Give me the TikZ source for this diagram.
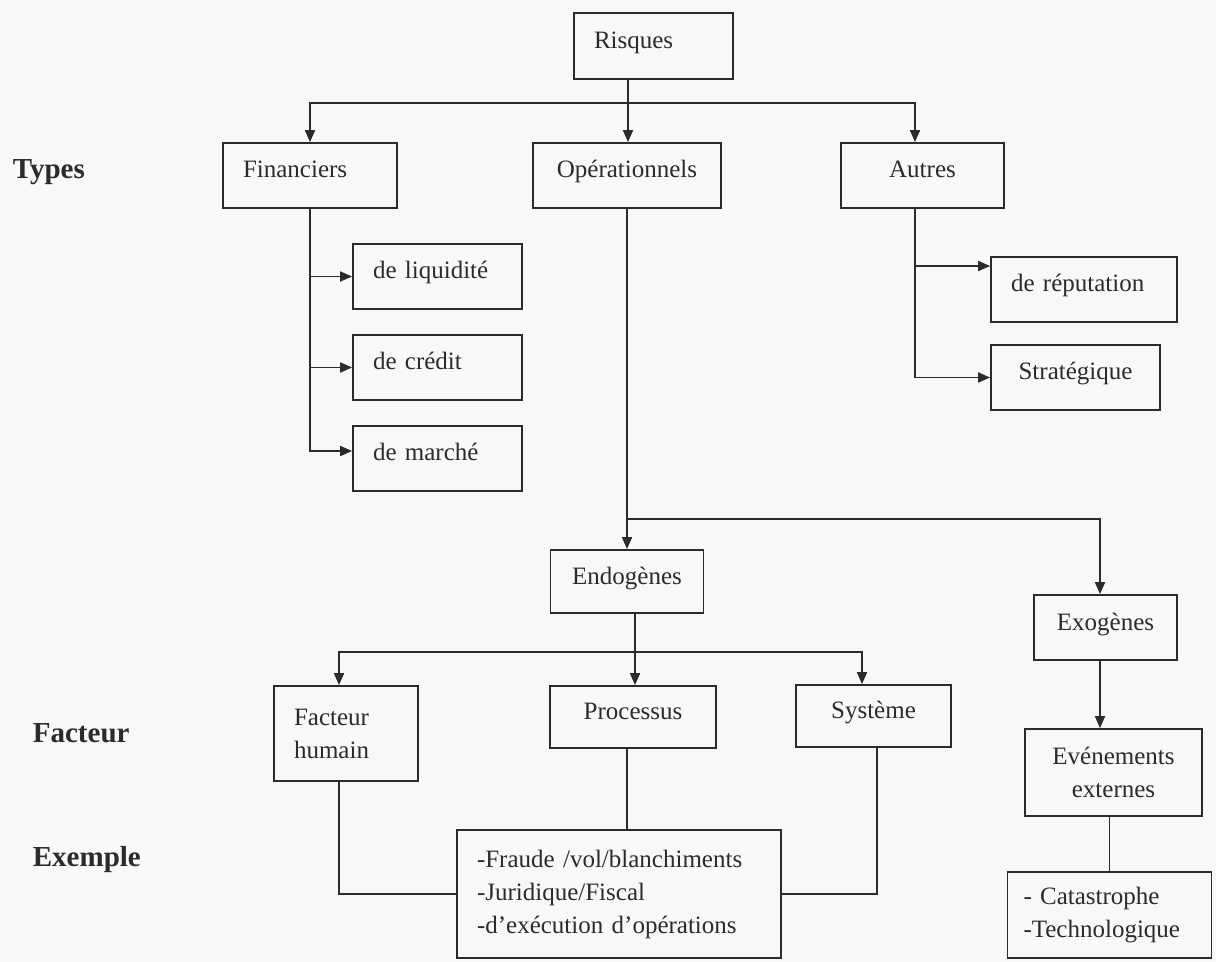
\documentclass[tikz,border=0pt]{standalone}
\usepackage{fontspec}
\setmainfont{Liberation Serif}
\usetikzlibrary{arrows.meta}
\definecolor{ink}{HTML}{2B2B2B}
\definecolor{paper}{HTML}{F7F8FA}
\tikzset{
  box/.style={draw=ink, line width=0.9pt, inner sep=0pt, text=ink, font=\fontsize{12.5}{16.5}\selectfont},
  cbox/.style 2 args={box, minimum width=#1, minimum height=#2, text height=7.25pt, text depth=4.75pt},
  lbox/.style 2 args={box, inner xsep=10pt, text width=#1, minimum height=#2, align=left},
  one/.style={text height=7.25pt, text depth=4.75pt},
  lab/.style={anchor=west, inner sep=0pt, text=ink, font=\fontsize{14.5}{17}\selectfont\bfseries}
}
\begin{document}
\begin{tikzpicture}[x=0.5pt,y=-0.5pt,>={Triangle[length=6pt,width=5pt]},line width=0.9pt,draw=ink]
\fill[paper] (0,0) rectangle (1216,962);
\useasboundingbox (0,0) rectangle (1216,962);
\node[lab] (types) at (12,172) {Types};
\node[lab] (facteur) at (32,733) {Facteur};
\node[lab] (exlab) at (32,860) {Exemple};
\node[lbox={59.5pt}{33pt}, one] (risques) at (653.5,46) {Risques};
\node[lbox={67pt}{32.5pt}, one] (fin) at (310,175.5) {Financiers};
\node[cbox={94pt}{32.5pt}] (oper) at (627,175.5) {Opérationnels};
\node[cbox={81.5pt}{32.5pt}] (autres) at (922.5,175.5) {Autres};
\node[lbox={64.5pt}{32.5pt}, one] (liq) at (437.5,276.5) {de liquidité};
\node[lbox={64.5pt}{32.5pt}, one] (cred) at (437.5,367.5) {de crédit};
\node[lbox={64.5pt}{32.5pt}, one] (marche) at (437.5,458.5) {de marché};
\node[lbox={73pt}{32.5pt}, one] (reput) at (1084,289.5) {de réputation};
\node[cbox={84.5pt}{32.5pt}] (strat) at (1075.5,377.5) {Stratégique};
\node[cbox={76.5pt}{31.5pt}] (endo) at (627,581.5) {Endogènes};
\node[cbox={71.5pt}{32.5pt}] (exo) at (1105.5,627.5) {Exogènes};
\node[lbox={52pt}{47.5pt}] (fact) at (346,733.5) {Facteur\\humain};
\node[cbox={83pt}{31pt}] (proc) at (633,717) {Processus};
\node[cbox={77.5pt}{31pt}] (syst) at (873.5,716) {Système};
\node[box, minimum width=88.5pt, minimum height=43.5pt, align=center] (even) at (1113.5,772.5) {Evénements\\externes};
\node[lbox={142pt}{64pt}] (exemple) at (619,894) {-Fraude /vol/blanchiments\\-Juridique/Fiscal\\-d’exécution d’opérations};
\node[lbox={86pt}{43pt}, inner xsep=8pt] (cata) at (1109.5,915) {- Catastrophe\\-Technologique};
\coordinate (hub) at (628,103);
\coordinate (atrunk) at ([xshift=-3.75pt]autres.south);
\coordinate (rin) at ([yshift=11.75pt]reput.west);
\coordinate (obr) at (627,519);
\coordinate (xin) at ([xshift=-2.75pt]exo.north);
\coordinate (ebr) at (635,652);
\draw[->] (risques.south -| hub) -- (oper.north -| hub);
\draw[->] (hub) -| (fin.north);
\draw[->] (hub) -| ([xshift=-3.75pt]autres.north);
\draw[->] (fin.south) |- ([yshift=3.75pt]marche.west);
\draw[->] (fin.south |- liq.west) -- (liq.west);
\draw[->] (fin.south |- cred.west) -- (cred.west);
\draw[->] (atrunk) |- (strat.west);
\draw[->] (atrunk |- rin) -- (rin);
\draw[->] (oper.south) -- (endo.north);
\draw[->] (obr) -| (xin);
\draw[->] (endo.south -| ebr) -- (proc.north -| ebr);
\draw[->] (ebr) -| ([xshift=-3.5pt]fact.north);
\draw[->] (ebr) -| ([xshift=-5.75pt]syst.north);
\draw[->] (xin |- exo.south) -- (xin |- even.north);
\draw (cata.north |- even.south) -- (cata.north);
\draw ([xshift=-3.5pt]fact.south) |- (exemple.west);
\draw (proc.south -| obr) -- (exemple.north -| obr);
\draw ([xshift=1.75pt]syst.south) |- (exemple.east);
\end{tikzpicture}
\end{document}
